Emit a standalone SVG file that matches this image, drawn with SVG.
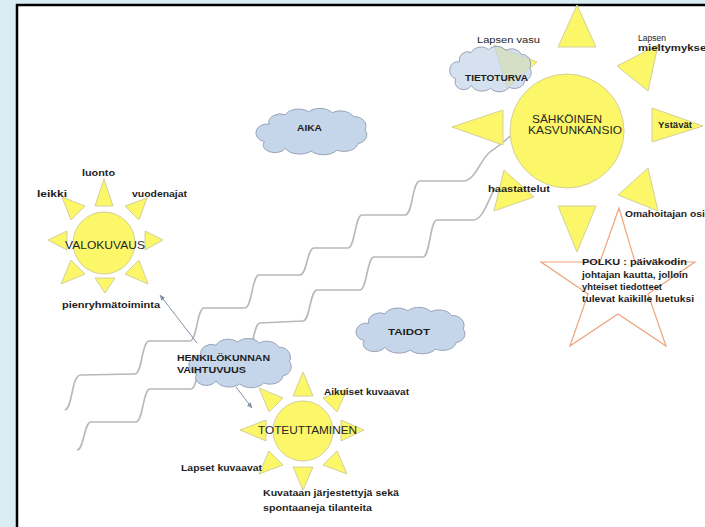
<svg xmlns="http://www.w3.org/2000/svg" width="705" height="527" viewBox="0 0 705 527">
<style>
.sun{fill:#fbf768;stroke:#d4d09a;stroke-width:1}
.cl{fill:#c6d6ea;stroke:#98a3b6;stroke-width:1}
.clt{fill:#c6d6ea;fill-opacity:0.72;stroke:#98a3b6;stroke-width:1}
.wave{fill:none;stroke:#b8b8bc;stroke-width:1.6}
.conn{fill:none;stroke:#8593a8;stroke-width:1}
.lb{font-family:"Liberation Sans",Arial,sans-serif;font-size:8.5px;font-weight:bold;fill:#1e1e1e}
.ln{font-family:"Liberation Sans",Arial,sans-serif;font-size:8.5px;fill:#1e1e1e}
.ct{font-family:"Liberation Sans",Arial,sans-serif;font-size:10.5px;fill:#262626}
.star{fill:none;stroke:#eea47a;stroke-width:1.2}
</style>
<defs>
<path id="cloud" style="vector-effect:non-scaling-stroke" d="M12,18 A10,9 0 0 1 26,8 A12,9 0 0 1 46,5 A12,9 0 0 1 66,6 A12,10 0 0 1 84,10 A10,10 0 0 1 94,24 A9,9 0 0 1 88,38 A12,9 0 0 1 70,45 A13,9 0 0 1 48,46 A13,9 0 0 1 26,43 A10,8 0 0 1 8,36 A9,9 0 0 1 12,18 Z"/>
<marker id="arr" viewBox="0 0 10 10" refX="9" refY="5" markerWidth="6" markerHeight="6" orient="auto-start-reverse">
<path d="M0,1 L10,5 L0,9 z" fill="#8593a8"/>
</marker>
</defs>
<rect x="0" y="0" width="705" height="527" fill="#daedf3"/>
<rect x="17" y="5" width="700" height="540" fill="#ffffff" stroke="#000000" stroke-width="2.5"/>

<g id="connectors">
<path class="wave" d="M65,410 C73,408 71,375 81,375 L135,374 C142,374 142,341 149,341 L190,341 C197,341 197,308 204,308 L245,308 C252,308 252,275 259,275 L300,275 C307,275 307,248 314,248 L348,248 C355,248 355,215 362,215 L405,215 C413,215 412,181 420,181 L463,181 C475,181 480,160 490,152 C498,146 506,141 512,134"/>
<path class="wave" d="M77,450 C84,450 84,422 91,422 L136,422 C143,422 143,389 150,389 L191,389 C198,389 198,356 205,356 L246,356 C253,356 253,323 260,323 L303,321 C310,321 310,290 317,290 L360,290 C367,290 367,257 374,257 L423,257 C430,257 430,220 437,220 L473,220 C483,220 488,200 495,188"/>
<path class="conn" d="M197,343 L160,295" marker-end="url(#arr)"/>
<path class="conn" d="M236,387 L252,408" marker-end="url(#arr)"/>
</g>

<g id="sun-sahkoinen">
<polygon class="sun" points="577,5 558,47 596,47"/>
<polygon class="sun" points="577,252 558,206 596,206"/>
<polygon class="sun" points="452,127 503,110 503,145"/>
<polygon class="sun" points="703,126 652,108 652,142"/>
<polygon class="sun" points="658,45 617,66 648,91"/>
<polygon class="sun" points="494,45 507,88 537,62"/>
<polygon class="sun" points="494,211 504,170 534,197"/>
<polygon class="sun" points="658,211 618,195 648,168"/>
<circle class="sun" cx="567" cy="131" r="57"/>
<text class="ct" x="532" y="123" textLength="70" lengthAdjust="spacingAndGlyphs">SÄHKÖINEN</text>
<text class="ct" x="528" y="134" textLength="94" lengthAdjust="spacingAndGlyphs">KASVUNKANSIO</text>
<text class="lb" x="658" y="128" textLength="34" lengthAdjust="spacingAndGlyphs">Ystävät</text>
<text class="lb" x="488" y="192" textLength="62" lengthAdjust="spacingAndGlyphs">haastattelut</text>
<text class="lb" x="625" y="217" textLength="86" lengthAdjust="spacingAndGlyphs">Omahoitajan osio</text>
<text class="ln" x="638" y="41" textLength="28" lengthAdjust="spacingAndGlyphs">Lapsen</text>
<text class="lb" x="638" y="51" textLength="72" lengthAdjust="spacingAndGlyphs">mieltymykset</text>
</g>

<g id="cloud-tietoturva">
<use href="#cloud" class="clt" transform="translate(449,45) scale(0.86,0.94)"/>
<text class="lb" x="465" y="81" textLength="63" lengthAdjust="spacingAndGlyphs">TIETOTURVA</text>
<text class="ln" x="477" y="43" textLength="63" lengthAdjust="spacingAndGlyphs">Lapsen vasu</text>
</g>

<g id="cloud-aika">
<use href="#cloud" class="cl" transform="translate(255,107) scale(1.17,0.96)"/>
<text class="lb" x="297" y="131" textLength="25" lengthAdjust="spacingAndGlyphs">AIKA</text>
</g>

<g id="cloud-taidot">
<use href="#cloud" class="cl" transform="translate(355,306) scale(1.15,0.96)"/>
<text class="lb" x="388" y="335" textLength="42" lengthAdjust="spacingAndGlyphs">TAIDOT</text>
</g>

<g id="cloud-henkilokunta">
<use href="#cloud" class="cl" transform="translate(188,337) scale(1.08,1.02)"/>
<text class="lb" x="177" y="361" textLength="93" lengthAdjust="spacingAndGlyphs">HENKILÖKUNNAN</text>
<text class="lb" x="177" y="373" textLength="69" lengthAdjust="spacingAndGlyphs">VAIHTUVUUS</text>
</g>

<g id="sun-valokuvaus">
<polygon class="sun" points="104,179 95,206 113,206"/>
<polygon class="sun" points="105,293 95,278 115,278"/>
<polygon class="sun" points="48,240 67,231 67,250"/>
<polygon class="sun" points="163,240 145,231 145,250"/>
<polygon class="sun" points="62,197 85,206 71,220"/>
<polygon class="sun" points="147,198 125,206 139,220"/>
<polygon class="sun" points="61,284 71,260 85,274"/>
<polygon class="sun" points="148,284 139,260 125,274"/>
<circle class="sun" cx="104" cy="243" r="31"/>
<text class="ct" x="65" y="249" textLength="80" lengthAdjust="spacingAndGlyphs">VALOKUVAUS</text>
<text class="lb" x="82" y="176" textLength="33" lengthAdjust="spacingAndGlyphs">luonto</text>
<text class="lb" x="37" y="197" textLength="30" lengthAdjust="spacingAndGlyphs">leikki</text>
<text class="lb" x="132" y="197" textLength="55" lengthAdjust="spacingAndGlyphs">vuodenajat</text>
<text class="lb" x="62" y="308" textLength="98" lengthAdjust="spacingAndGlyphs">pienryhmätoiminta</text>
</g>

<g id="sun-toteuttaminen">
<polygon class="sun" points="303,372 293,396 313,396"/>
<polygon class="sun" points="303,490 293,467 313,467"/>
<polygon class="sun" points="240,430 266,420 266,441"/>
<polygon class="sun" points="364,430 341,420 341,441"/>
<polygon class="sun" points="259,388 283,398 269,412"/>
<polygon class="sun" points="347,389 323,398 337,412"/>
<polygon class="sun" points="259,474 269,451 283,465"/>
<polygon class="sun" points="347,474 337,451 323,465"/>
<circle class="sun" cx="303" cy="431" r="30"/>
<text class="ct" x="258" y="434" textLength="99" lengthAdjust="spacingAndGlyphs">TOTEUTTAMINEN</text>
<text class="lb" x="324" y="395" textLength="85" lengthAdjust="spacingAndGlyphs">Aikuiset kuvaavat</text>
<text class="lb" x="181" y="471" textLength="81" lengthAdjust="spacingAndGlyphs">Lapset kuvaavat</text>
<text class="lb" x="263" y="496" textLength="136" lengthAdjust="spacingAndGlyphs">Kuvataan järjestettyjä sekä</text>
<text class="lb" x="263" y="511" textLength="109" lengthAdjust="spacingAndGlyphs">spontaaneja tilanteita</text>
</g>

<g id="star-polku">
<polygon class="star" points="619,208 635,262 695,262 648,294 666,346 618,314 570,346 588,294 541,262 600,262"/>
<text class="lb" x="582" y="265" textLength="105" lengthAdjust="spacingAndGlyphs">POLKU : päiväkodin</text>
<text class="lb" x="582" y="278" textLength="106" lengthAdjust="spacingAndGlyphs">johtajan kautta, jolloin</text>
<text class="lb" x="582" y="290" textLength="80" lengthAdjust="spacingAndGlyphs">yhteiset tiedotteet</text>
<text class="lb" x="582" y="302" textLength="112" lengthAdjust="spacingAndGlyphs">tulevat kaikille luetuksi</text>
</g>
</svg>
